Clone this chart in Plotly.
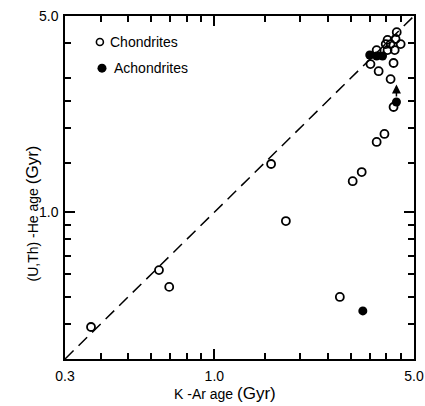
import math
import plotly.graph_objects as go

# Data (Gyr)
chon_kar = [0.37, 0.64, 0.695, 1.58, 1.78, 2.75, 3.05, 3.28, 3.70, 3.94, 4.24,
            4.35, 4.04, 4.31, 3.98, 4.14, 4.49, 3.70, 4.04, 4.28, 3.52, 4.24, 3.76, 4.14]
chon_uhe = [0.39, 0.622, 0.542, 1.485, 0.93, 0.499, 1.29, 1.39, 1.78, 1.90, 2.37,
            4.38, 4.11, 4.14, 3.97, 3.97, 3.97, 3.78, 3.78, 3.78, 3.37, 3.40, 3.18, 2.98]
achon_kar = [3.31, 4.34, 3.50, 3.70, 3.88]
achon_uhe = [0.445, 2.47, 3.63, 3.60, 3.60]
diag = [0.3, 5.0]
x_minor = [0.4, 0.5, 0.6, 0.7, 0.8, 0.9, 1.5, 2.0, 2.5, 3.0, 3.5, 4.0, 4.5]
y_minor = [0.4, 0.5, 0.6, 0.7, 0.8, 0.9, 1.5, 2.0, 2.5, 3.0, 4.0]
major_vals = [0.3, 1.0, 5.0]
x_major_text = ["0.3", "1.0", "5.0"]
y_major_text = ["", "1.0", "5.0"]

FONT = "Liberation Sans"

fig = go.Figure()
fig.add_trace(go.Scatter(x=diag, y=diag, mode="lines",
                         line=dict(color="black", width=1.5, dash="12px,7px"),
                         showlegend=False, hoverinfo="skip"))
fig.add_trace(go.Scatter(x=chon_kar, y=chon_uhe, mode="markers", showlegend=False,
                         marker=dict(symbol="circle-open", size=8, color="black",
                                     line=dict(width=1.8, color="black"))))
fig.add_trace(go.Scatter(x=achon_kar, y=achon_uhe, mode="markers", showlegend=False,
                         marker=dict(symbol="circle", size=9, color="black")))

axis_common = dict(
    type="log", showgrid=False, zeroline=False, showline=True, linecolor="black",
    linewidth=1.5, mirror="allticks", ticks="inside", ticklen=10, tickwidth=1.5,
    tickcolor="black", tickmode="array", tickvals=major_vals, automargin=False,
    tickfont=dict(family=FONT, size=14, color="black"),
    range=[math.log10(0.3), math.log10(5.0)],
)
fig.update_xaxes(**axis_common, ticktext=x_major_text, ticklabelstandoff=3,
                 minor=dict(tickmode="array", tickvals=x_minor, ticks="inside",
                            ticklen=6, tickwidth=1.5, tickcolor="black"))
fig.update_yaxes(**axis_common, ticktext=y_major_text, ticklabelstandoff=2,
                 minor=dict(tickmode="array", tickvals=y_minor, ticks="inside",
                            ticklen=6, tickwidth=1.5, tickcolor="black"))

# Arrow above the achondrite lower-bound point
fig.add_annotation(x=math.log10(4.34), y=math.log10(2.85),
                   ax=math.log10(4.34), ay=math.log10(2.55),
                   xref="x", yref="y", axref="x", ayref="y",
                   showarrow=True, arrowhead=2, arrowsize=1.2, arrowwidth=1.5,
                   arrowcolor="black", text="")

# Legend
fig.add_shape(type="circle", xref="paper", yref="paper", xsizemode="pixel",
              ysizemode="pixel", xanchor=0.1, yanchor=0.924,
              x0=-3.5, x1=3.5, y0=-3.5, y1=3.5, line=dict(color="black", width=1.6))
fig.add_shape(type="circle", xref="paper", yref="paper", xsizemode="pixel",
              ysizemode="pixel", xanchor=0.106, yanchor=0.848,
              x0=-4.5, x1=4.5, y0=-4.5, y1=4.5, fillcolor="black",
              line=dict(color="black", width=0))
fig.add_annotation(x=0.124, y=0.924, xref="paper", yref="paper", text="Chondrites",
                   showarrow=False, xanchor="left", yanchor="middle",
                   font=dict(family=FONT, size=14, color="black"))
fig.add_annotation(x=0.136, y=0.848, xref="paper", yref="paper", text="Achondrites",
                   showarrow=False, xanchor="left", yanchor="middle",
                   font=dict(family=FONT, size=14, color="black"))

# Axis titles
fig.add_annotation(x=0.459, y=-0.102, xref="paper", yref="paper",
                   text='K -Ar age <span style="font-size:17px">(Gyr)</span>',
                   showarrow=False, xanchor="center", yanchor="middle",
                   font=dict(family=FONT, size=14, color="black"))
fig.add_annotation(x=-0.093, y=0.423, xref="paper", yref="paper",
                   text='(U,Th) -He age <span style="font-size:17px">(Gyr)</span>',
                   textangle=-90, showarrow=False, xanchor="center", yanchor="middle",
                   font=dict(family=FONT, size=14, color="black"))

fig.update_layout(
    width=425, height=406,
    margin=dict(l=64.5, r=11, t=16, b=47),
    paper_bgcolor="white", plot_bgcolor="white",
    showlegend=False,
)

fig.write_html("out.html")
